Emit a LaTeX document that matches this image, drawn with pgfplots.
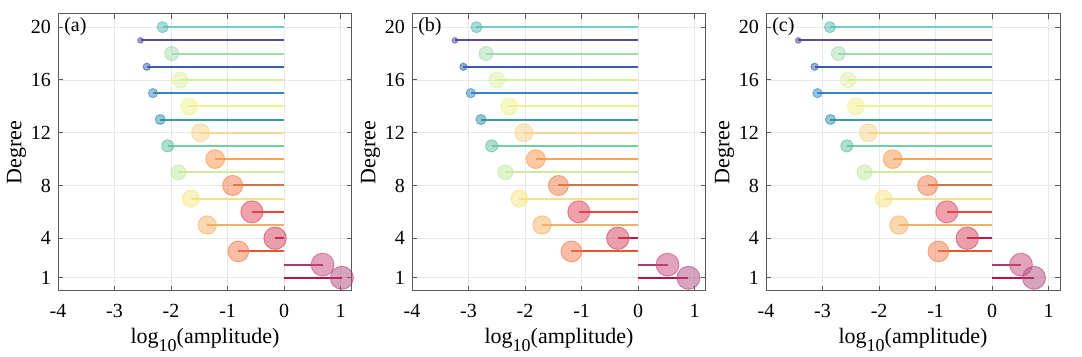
\documentclass[border=0pt]{standalone}
\usepackage{fontspec}
\setmainfont{Liberation Serif}[Ligatures=TeX]
\usepackage{pgfplots}
\pgfplotsset{compat=1.18}

\definecolor{stcA1}{HTML}{B8104A}
\definecolor{stcA2}{HTML}{B03A6A}
\definecolor{stcA3}{HTML}{E4582E}
\definecolor{stcA4}{HTML}{C8163F}
\definecolor{stcA5}{HTML}{F2B060}
\definecolor{stcA6}{HTML}{F04040}
\definecolor{stcA7}{HTML}{F4E088}
\definecolor{stcA8}{HTML}{D27446}
\definecolor{stcA9}{HTML}{CCEEA0}
\definecolor{stcA10}{HTML}{F8A452}
\definecolor{stcA11}{HTML}{70D0A0}
\definecolor{stcA12}{HTML}{F6D890}
\definecolor{stcA13}{HTML}{3A9AAA}
\definecolor{stcA14}{HTML}{F2F080}
\definecolor{stcA15}{HTML}{3882C2}
\definecolor{stcA16}{HTML}{D4F098}
\definecolor{stcA17}{HTML}{3660AC}
\definecolor{stcA18}{HTML}{A0DCA8}
\definecolor{stcA19}{HTML}{584896}
\definecolor{stcA20}{HTML}{6ED0C0}

\definecolor{mkcA1}{HTML}{B04A7E}
\definecolor{mkcA2}{HTML}{C8487A}
\definecolor{mkcA3}{HTML}{F47A4E}
\definecolor{mkcA4}{HTML}{D4405A}
\definecolor{mkcA5}{HTML}{F6B060}
\definecolor{mkcA6}{HTML}{E04656}
\definecolor{mkcA7}{HTML}{F8E480}
\definecolor{mkcA8}{HTML}{F27A48}
\definecolor{mkcA9}{HTML}{C0E8A0}
\definecolor{mkcA10}{HTML}{F8964C}
\definecolor{mkcA11}{HTML}{5CC09A}
\definecolor{mkcA12}{HTML}{F8D488}
\definecolor{mkcA13}{HTML}{2E8EA8}
\definecolor{mkcA14}{HTML}{F0F08C}
\definecolor{mkcA15}{HTML}{3A86C4}
\definecolor{mkcA16}{HTML}{DCF0A0}
\definecolor{mkcA17}{HTML}{3660B0}
\definecolor{mkcA18}{HTML}{A4DAB0}
\definecolor{mkcA19}{HTML}{5A4AA0}
\definecolor{mkcA20}{HTML}{58B8B0}

% \stem{degree}{value}{marker radius}
\newcommand{\stem}[3]{%
  \addplot[only marks, mark=*, mark size=#3pt,
    mark options={fill=mkcA#1, fill opacity=0.5, draw=mkcA#1, draw opacity=0.6, line width=0.5pt}]
    coordinates {(#2,#1)};
  \addplot[color=stcA#1, line width=1pt, mark=none] coordinates {(0,#1) (#2,#1)};
}

\pgfplotsset{
  panel/.style={
    scale only axis,
    width=147pt, height=138.5pt,
    xmin=-4, xmax=1.2, ymin=0, ymax=21,
    xtick={-4,-3,-2,-1,0,1},
    ytick={1,4,8,12,16,20},
    grid=major,
    major grid style={draw=gray!18, line width=0.4pt},
    axis line style={draw=black!65, line width=0.5pt},
    major tick style={draw=black!65, line width=0.5pt},
    major tick length=2.5pt,
    tick align=inside,
    tick pos=both,
    clip=false,
    /pgf/number format/assume math mode=true,
    tick label style={font=\rmfamily\fontsize{10}{12}\selectfont, text=black},
    xticklabel style={anchor=base, yshift=-13.5pt},
    label style={font=\rmfamily\fontsize{11}{13}\selectfont, text=black},
    xlabel={log\raisebox{-4pt}{\fontsize{9}{9}\selectfont 10}(amplitude)},
    ylabel={Degree},
    xlabel style={at={(axis description cs:0.5,0)}, anchor=base, yshift=-26.5pt},
    ylabel style={at={(axis description cs:-0.141,0.5)}, anchor=center},
  }
}

\begin{document}
\begin{tikzpicture}[font=\rmfamily]
\useasboundingbox (-29pt,-33pt) rectangle (512pt,145.5pt);

% ---------------- (a) ----------------
\begin{axis}[panel, at={(0pt,0pt)}, anchor=south west]
\stem{20}{-2.15}{2.75}
\stem{19}{-2.54}{1.4}
\stem{18}{-1.99}{3.5}
\stem{17}{-2.43}{1.8}
\stem{16}{-1.84}{3.9}
\stem{15}{-2.32}{2.3}
\stem{14}{-1.68}{4.2}
\stem{13}{-2.19}{2.5}
\stem{12}{-1.48}{4.5}
\stem{11}{-2.06}{3.0}
\stem{10}{-1.22}{4.7}
\stem{9}{-1.87}{3.75}
\stem{8}{-0.91}{5.0}
\stem{7}{-1.65}{4.25}
\stem{6}{-0.57}{5.5}
\stem{5}{-1.36}{4.6}
\stem{4}{-0.16}{5.6}
\stem{3}{-0.81}{5.2}
\stem{2}{0.68}{5.7}
\stem{1}{1.02}{5.75}
\node[anchor=west, inner sep=0pt, font=\rmfamily\fontsize{10}{12}\selectfont, text=black] at (rel axis cs:0.02,0.953) {(a)};
\end{axis}

% ---------------- (b) ----------------
\begin{axis}[panel, at={(177pt,0pt)}, anchor=south west]
\stem{20}{-2.86}{2.75}
\stem{19}{-3.24}{1.4}
\stem{18}{-2.69}{3.5}
\stem{17}{-3.09}{1.8}
\stem{16}{-2.50}{3.9}
\stem{15}{-2.96}{2.3}
\stem{14}{-2.28}{4.2}
\stem{13}{-2.78}{2.5}
\stem{12}{-2.02}{4.5}
\stem{11}{-2.59}{3.0}
\stem{10}{-1.81}{4.7}
\stem{9}{-2.35}{3.75}
\stem{8}{-1.41}{5.0}
\stem{7}{-2.10}{4.25}
\stem{6}{-1.05}{5.5}
\stem{5}{-1.70}{4.6}
\stem{4}{-0.36}{5.6}
\stem{3}{-1.18}{5.2}
\stem{2}{0.52}{5.7}
\stem{1}{0.89}{5.75}
\node[anchor=west, inner sep=0pt, font=\rmfamily\fontsize{10}{12}\selectfont, text=black] at (rel axis cs:0.02,0.953) {(b)};
\end{axis}

% ---------------- (c) ----------------
\begin{axis}[panel, at={(354pt,0pt)}, anchor=south west]
\stem{20}{-2.87}{2.75}
\stem{19}{-3.43}{1.4}
\stem{18}{-2.72}{3.5}
\stem{17}{-3.14}{1.8}
\stem{16}{-2.55}{3.9}
\stem{15}{-3.09}{2.3}
\stem{14}{-2.41}{4.2}
\stem{13}{-2.86}{2.5}
\stem{12}{-2.19}{4.5}
\stem{11}{-2.57}{3.0}
\stem{10}{-1.76}{4.7}
\stem{9}{-2.26}{3.75}
\stem{8}{-1.14}{5.0}
\stem{7}{-1.92}{4.25}
\stem{6}{-0.80}{5.5}
\stem{5}{-1.65}{4.6}
\stem{4}{-0.44}{5.6}
\stem{3}{-0.95}{5.2}
\stem{2}{0.51}{5.7}
\stem{1}{0.74}{5.75}
\node[anchor=west, inner sep=0pt, font=\rmfamily\fontsize{10}{12}\selectfont, text=black] at (rel axis cs:0.02,0.953) {(c)};
\end{axis}
\end{tikzpicture}
\end{document}
